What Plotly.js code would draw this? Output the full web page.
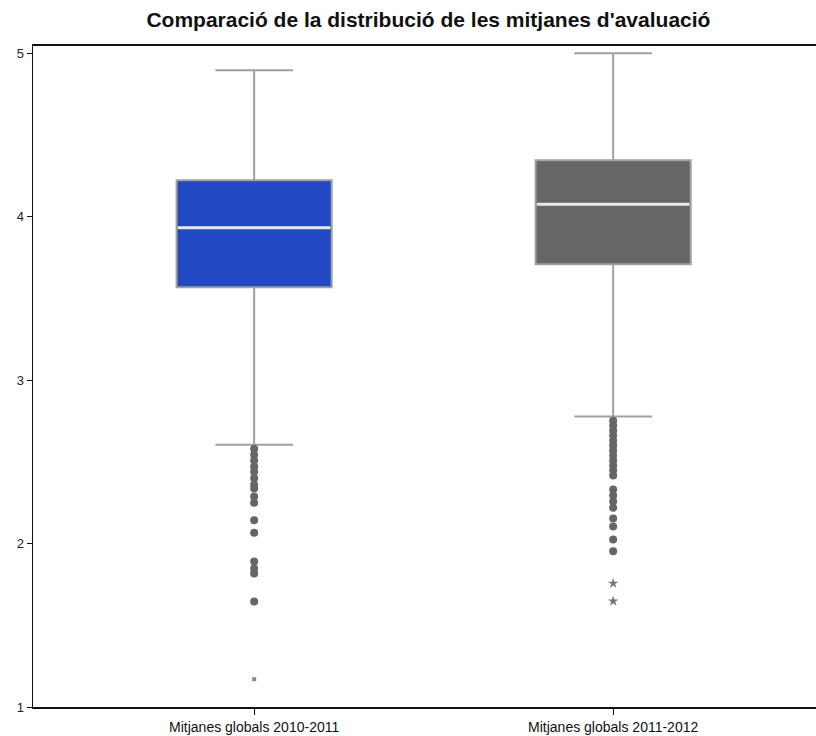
<!DOCTYPE html>
<html>
<head>
<meta charset="utf-8">
<script src="https://cdn.plot.ly/plotly-3.0.1.min.js"></script>
<style>html,body{margin:0;padding:0;background:#fff;}#chart{width:816px;height:736px;}</style>
</head>
<body>
<div id="chart"></div>
<script>
// Categories and tick labels
const categories = ["Mitjanes globals 2010-2011", "Mitjanes globals 2011-2012"];
const catPos = [0, 1];
const yTicks = [1, 2, 3, 4, 5];

// Box statistics
const q1Values = [3.569, 3.709];
const medianValues = [3.933, 4.076];
const q3Values = [4.224, 4.346];
const lowerWhisker = [2.605, 2.778];
const upperWhisker = [4.896, 5.0];

// Outliers (circles), extremes (stars / tiny marks)
const outliers2010 = [2.58, 2.544, 2.508, 2.47, 2.44, 2.40, 2.36, 2.337, 2.288, 2.25, 2.143, 2.066, 1.89, 1.847, 1.817, 1.645];
const outliers2011 = [2.752, 2.722, 2.691, 2.661, 2.63, 2.60, 2.569, 2.539, 2.508, 2.478, 2.447, 2.417, 2.331, 2.294, 2.257, 2.22, 2.153, 2.104, 2.025, 1.953];
const extremes2010 = [1.17];
const extremes2011 = [1.756, 1.648];

const boxColors = ["#2349C2", "#666666"];
const boxWidth = 0.432;

const traces = [];
for (let i = 0; i < categories.length; i++) {
  traces.push({
    type: "box",
    x: [catPos[i]],
    q1: [q1Values[i]],
    median: [medianValues[i]],
    q3: [q3Values[i]],
    lowerfence: [lowerWhisker[i]],
    upperfence: [upperWhisker[i]],
    width: boxWidth,
    whiskerwidth: 0.5,
    fillcolor: boxColors[i],
    line: {color: "#a0a0a0", width: 2},
    boxpoints: false,
    hoverinfo: "skip",
    showlegend: false
  });
  traces.push({
    type: "scatter",
    mode: "lines",
    x: [catPos[i] - boxWidth / 2 + 0.004, catPos[i] + boxWidth / 2 - 0.004],
    y: [medianValues[i], medianValues[i]],
    line: {color: "#e8e8e8", width: 3},
    hoverinfo: "skip",
    showlegend: false
  });
}
const outlierSets = [outliers2010, outliers2011];
outlierSets.forEach((arr, i) => {
  traces.push({
    type: "scatter", mode: "markers",
    x: arr.map(() => catPos[i]), y: arr,
    marker: {symbol: "circle", size: 8, color: "#666666"},
    hoverinfo: "skip", showlegend: false
  });
});
traces.push({
  type: "scatter", mode: "markers",
  x: extremes2010.map(() => catPos[0]), y: extremes2010,
  marker: {symbol: "square", size: 4, color: "#8a8a8a"},
  hoverinfo: "skip", showlegend: false
});
traces.push({
  type: "scatter", mode: "markers",
  x: extremes2011.map(() => catPos[1]), y: extremes2011,
  marker: {symbol: "star", size: 8, color: "#777777"},
  hoverinfo: "skip", showlegend: false
});

const layout = {
  width: 816, height: 736,
  margin: {l: 33, r: 0, t: 46, b: 29},
  paper_bgcolor: "#ffffff", plot_bgcolor: "#ffffff",
  title: {
    text: "<b>Comparació de la distribució de les mitjanes d'avaluació</b>",
    font: {family: "Liberation Sans, Arial, sans-serif", size: 21, color: "#111"},
    x: 0.525, xanchor: "center", y: 0.973, yanchor: "middle"
  },
  xaxis: {
    range: [-0.616, 1.565],
    tickvals: catPos, ticktext: categories,
    showline: true, linecolor: "#111", linewidth: 2, mirror: true,
    ticks: "outside", ticklen: 6, tickcolor: "#111", tickwidth: 1,
    showgrid: false, zeroline: false,
    tickfont: {family: "Liberation Sans, Arial, sans-serif", size: 14, color: "#111"}
  },
  yaxis: {
    range: [1, 5.045],
    tickvals: yTicks,
    showline: true, linecolor: "#111", linewidth: 1.5,
    ticks: "outside", ticklen: 5, tickcolor: "#111", tickwidth: 1,
    showgrid: false, zeroline: false,
    tickfont: {family: "Liberation Sans, Arial, sans-serif", size: 13, color: "#222"}
  }
};

Plotly.newPlot("chart", traces, layout, {displayModeBar: false, staticPlot: true});
</script>
</body>
</html>
